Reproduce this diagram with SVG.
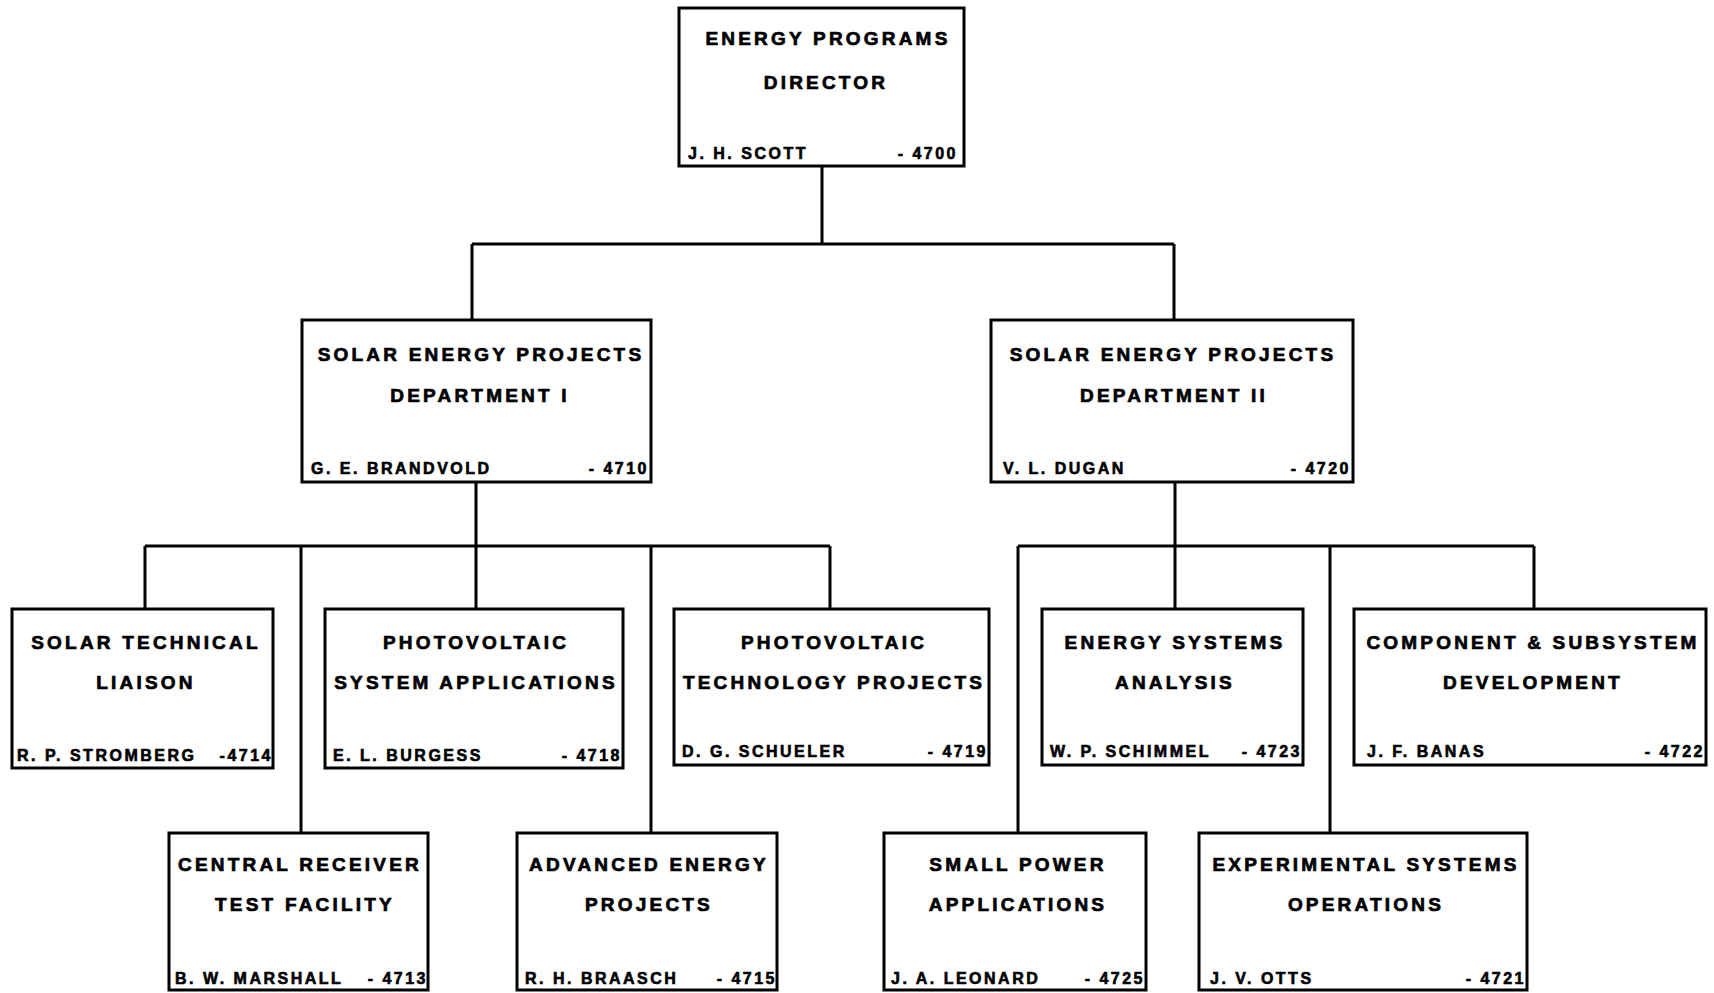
<svg xmlns="http://www.w3.org/2000/svg" width="1714" height="993" viewBox="0 0 1714 993">
<style>
.box{fill:#fff;stroke:#000;stroke-width:3}
.t{font-family:"Liberation Sans",Arial,sans-serif;font-weight:bold;font-size:19px;letter-spacing:3.2px;fill:#000;stroke:#000;stroke-width:0.7px;text-anchor:middle}
.n{font-family:"Liberation Sans",Arial,sans-serif;font-weight:bold;font-size:16px;letter-spacing:2.5px;fill:#000;stroke:#000;stroke-width:0.6px}
.r{text-anchor:end}
.c{fill:none;stroke:#000;stroke-width:3}
</style>
<rect width="1714" height="993" fill="#fff"/>
<g id="connectors" class="c">
<path d="M822,166V244M472,244H1174M472,244V320M1174,244V320"/>
<path d="M476,482V546M145,546H830M145,546V609M301,546V833M476,546V609M651,546V833M830,546V609"/>
<path d="M1175,482V546M1018,546H1534M1018,546V833M1175,546V609M1330,546V833M1534,546V609"/>
</g>
<g id="director">
<rect class="box" x="679" y="8" width="285" height="158"/>
<text class="t" x="828" y="45">ENERGY PROGRAMS</text>
<text class="t" x="826" y="89">DIRECTOR</text>
<text class="n" x="688" y="159">J. H. SCOTT</text>
<text class="n r" x="958" y="159">- 4700</text>
</g>
<g id="dept1">
<rect class="box" x="302" y="320" width="349" height="162"/>
<text class="t" x="481" y="361">SOLAR ENERGY PROJECTS</text>
<text class="t" x="480" y="402">DEPARTMENT I</text>
<text class="n" x="311" y="474">G. E. BRANDVOLD</text>
<text class="n r" x="649" y="474">- 4710</text>
</g>
<g id="dept2">
<rect class="box" x="991" y="320" width="362" height="162"/>
<text class="t" x="1173" y="361">SOLAR ENERGY PROJECTS</text>
<text class="t" x="1174" y="402">DEPARTMENT II</text>
<text class="n" x="1003" y="474">V. L. DUGAN</text>
<text class="n r" x="1351" y="474">- 4720</text>
</g>
<g id="stl">
<rect class="box" x="12" y="609" width="261" height="159"/>
<text class="t" x="146" y="649">SOLAR TECHNICAL</text>
<text class="t" x="146" y="689">LIAISON</text>
<text class="n" x="17" y="761">R. P. STROMBERG</text>
<text class="n r" x="273" y="761">-4714</text>
</g>
<g id="pvsa">
<rect class="box" x="325" y="609" width="298" height="159"/>
<text class="t" x="476" y="649">PHOTOVOLTAIC</text>
<text class="t" x="476" y="689">SYSTEM APPLICATIONS</text>
<text class="n" x="333" y="761">E. L. BURGESS</text>
<text class="n r" x="622" y="761">- 4718</text>
</g>
<g id="pvtp">
<rect class="box" x="674" y="609" width="315" height="156"/>
<text class="t" x="834" y="649">PHOTOVOLTAIC</text>
<text class="t" x="834" y="689">TECHNOLOGY PROJECTS</text>
<text class="n" x="682" y="757">D. G. SCHUELER</text>
<text class="n r" x="988" y="757">- 4719</text>
</g>
<g id="esa">
<rect class="box" x="1042" y="609" width="261" height="156"/>
<text class="t" x="1175" y="649">ENERGY SYSTEMS</text>
<text class="t" x="1175" y="689">ANALYSIS</text>
<text class="n" x="1050" y="757">W. P. SCHIMMEL</text>
<text class="n r" x="1302" y="757">- 4723</text>
</g>
<g id="csd">
<rect class="box" x="1354" y="609" width="352" height="156"/>
<text class="t" x="1533" y="649">COMPONENT &amp; SUBSYSTEM</text>
<text class="t" x="1533" y="689">DEVELOPMENT</text>
<text class="n" x="1367" y="757">J. F. BANAS</text>
<text class="n r" x="1705" y="757">- 4722</text>
</g>
<g id="crtf">
<rect class="box" x="169" y="833" width="259" height="157"/>
<text class="t" x="300" y="871">CENTRAL RECEIVER</text>
<text class="t" x="305" y="911">TEST FACILITY</text>
<text class="n" x="175" y="984">B. W. MARSHALL</text>
<text class="n r" x="428" y="984">- 4713</text>
</g>
<g id="aep">
<rect class="box" x="517" y="833" width="260" height="157"/>
<text class="t" x="649" y="871">ADVANCED ENERGY</text>
<text class="t" x="649" y="911">PROJECTS</text>
<text class="n" x="525" y="984">R. H. BRAASCH</text>
<text class="n r" x="777" y="984">- 4715</text>
</g>
<g id="spa">
<rect class="box" x="884" y="833" width="262" height="157"/>
<text class="t" x="1018" y="871">SMALL POWER</text>
<text class="t" x="1018" y="911">APPLICATIONS</text>
<text class="n" x="891" y="984">J. A. LEONARD</text>
<text class="n r" x="1145" y="984">- 4725</text>
</g>
<g id="eso">
<rect class="box" x="1199" y="833" width="328" height="157"/>
<text class="t" x="1366" y="871">EXPERIMENTAL SYSTEMS</text>
<text class="t" x="1366" y="911">OPERATIONS</text>
<text class="n" x="1210" y="984">J. V. OTTS</text>
<text class="n r" x="1526" y="984">- 4721</text>
</g>
</svg>
